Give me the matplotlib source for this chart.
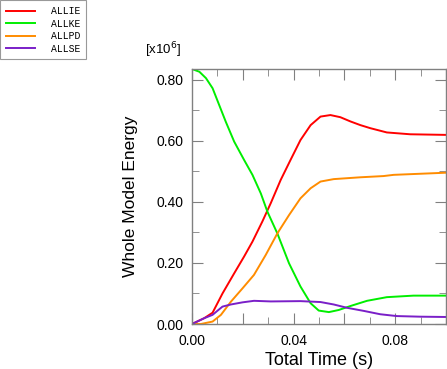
import matplotlib
matplotlib.use("Agg")
import matplotlib.pyplot as plt
from matplotlib.ticker import MultipleLocator, FuncFormatter
from matplotlib.lines import Line2D

# Data (energy in units of 1e6)
ie_t = [0.0, 0.0048, 0.0081, 0.0120, 0.0166, 0.0205, 0.0238, 0.0277, 0.0310, 0.0349, 0.0388,
        0.0427, 0.0467, 0.0506, 0.0545, 0.0584, 0.0624, 0.0663, 0.0702, 0.0767, 0.0859, 0.1000]
ie_v = [0.0, 0.019, 0.037, 0.100, 0.166, 0.221, 0.270, 0.336, 0.396, 0.472, 0.538,
        0.603, 0.652, 0.680, 0.685, 0.678, 0.664, 0.652, 0.642, 0.628, 0.622, 0.620]

ke_t = [0.0, 0.0029, 0.0055, 0.0081, 0.0107, 0.0133, 0.0166, 0.0205, 0.0238, 0.0271, 0.0297,
        0.0336, 0.0382, 0.0427, 0.0467, 0.0499, 0.0539, 0.0578, 0.0624, 0.0689, 0.0767, 0.0872, 0.1000]
ke_v = [0.836, 0.827, 0.806, 0.773, 0.718, 0.663, 0.598, 0.538, 0.489, 0.428, 0.368,
        0.297, 0.199, 0.123, 0.068, 0.044, 0.039, 0.046, 0.059, 0.076, 0.088, 0.093, 0.093]

pd_t = [0.0, 0.0035, 0.0081, 0.0114, 0.0153, 0.0199, 0.0244, 0.0290, 0.0336, 0.0382, 0.0427,
        0.0467, 0.0506, 0.0558, 0.0663, 0.0754, 0.0794, 0.1000]
pd_v = [0.0, 0.0, 0.008, 0.030, 0.073, 0.117, 0.161, 0.226, 0.297, 0.357, 0.412,
        0.445, 0.467, 0.475, 0.481, 0.485, 0.489, 0.496]

se_t = [0.0, 0.0048, 0.0081, 0.0101, 0.0120, 0.0153, 0.0199, 0.0244, 0.0310, 0.0427, 0.0506,
        0.0558, 0.0611, 0.0676, 0.0741, 0.0806, 0.0898, 0.1000]
se_v = [0.0, 0.019, 0.030, 0.044, 0.057, 0.064, 0.071, 0.076, 0.074, 0.075, 0.072,
        0.064, 0.053, 0.043, 0.032, 0.026, 0.024, 0.023]

series_names = ["ALLIE", "ALLKE", "ALLPD", "ALLSE"]
colors = ["#ff0000", "#00ee00", "#ff8c00", "#7a1fc8"]

fig = plt.figure(figsize=(4.47, 3.69), dpi=100)
ax = fig.add_axes([192/447, 45/369, 254/447, 255/369])

for (t, v), c in zip([(ie_t, ie_v), (ke_t, ke_v), (pd_t, pd_v), (se_t, se_v)], colors):
    ax.plot(t, v, color=c, lw=1.4, solid_joinstyle="round")

ax.set_xlim(0, 0.1)
ax.set_ylim(0, 0.836)

grey = "#808080"
for s in ax.spines.values():
    s.set_color(grey)
    s.set_linewidth(1.0)

ax.xaxis.set_major_locator(MultipleLocator(0.02))
ax.xaxis.set_minor_locator(MultipleLocator(0.01))
ax.yaxis.set_major_locator(MultipleLocator(0.2))
ax.yaxis.set_minor_locator(MultipleLocator(0.1))

def xfmt(v, pos):
    k = round(v / 0.02)
    return f"{v:.2f}" if k % 2 == 0 else ""
ax.xaxis.set_major_formatter(FuncFormatter(xfmt))
ax.yaxis.set_major_formatter(FuncFormatter(lambda v, p: f"{v:.2f}"))

ax.tick_params(which="both", direction="in", top=True, right=True, color=grey,
               labelsize=10)
ax.tick_params(axis="x", pad=7)
ax.tick_params(axis="y", pad=6)
ax.tick_params(which="major", length=8)
ax.tick_params(which="minor", length=5)
for lab in ax.get_xticklabels() + ax.get_yticklabels():
    lab.set_fontfamily("Liberation Sans")

ax.set_xlabel("Total Time (s)", fontsize=13, family="Liberation Sans", labelpad=3)
ax.set_ylabel("Whole Model Energy", fontsize=12.5, family="Liberation Sans", labelpad=13)

fig.text(145/447, 1 - 50/369, r"[x10$^6$]", fontsize=9.5, family="Liberation Sans",
         ha="left", va="center")

handles = [Line2D([0], [0], color=c, lw=1.4) for c in colors]
leg = fig.legend(handles, series_names, loc="upper left", bbox_to_anchor=(0.0, 1.0),
                 frameon=True, fancybox=False, edgecolor=grey,
                 prop={"family": "Liberation Mono", "size": 7},
                 handlelength=3.0, handletextpad=1.6, labelspacing=0.25,
                 borderpad=0.6, borderaxespad=0.05)
leg.get_frame().set_linewidth(0.8)

fig.savefig("out.png", dpi=100)
